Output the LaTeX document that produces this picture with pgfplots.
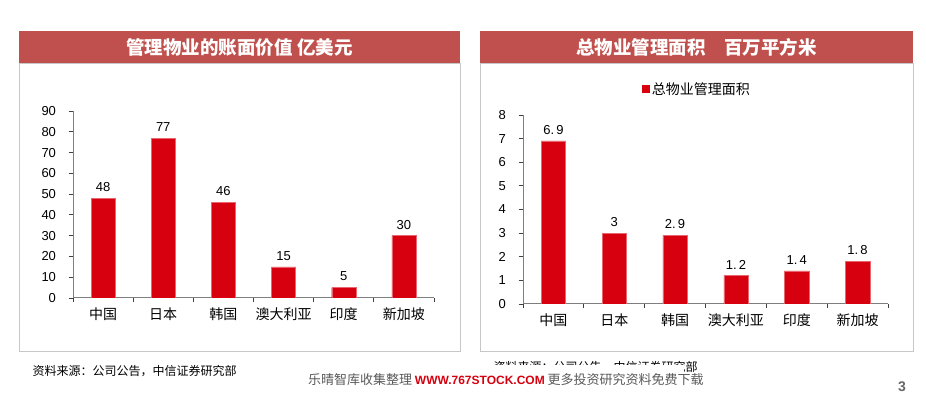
\documentclass[border=0pt]{standalone}
\usepackage{pgfplots}
\pgfplotsset{compat=1.18}
\usepackage{fontspec}
\setmainfont{Liberation Sans}
\newfontfamily\cjk{Noto Sans CJK SC}
\definecolor{barred}{HTML}{D7000F}
\definecolor{titlered}{HTML}{C0504D}
\definecolor{axisgray}{HTML}{7F7F7F}
\pgfplotsset{
  mybar/.style={
    scale only axis,
    xmin=-0.5, xmax=5.5, ymin=0,
    axis lines*=left,
    axis line style={axisgray, line width=1pt, -},
    tick style={black!75, line width=0.8pt},
    tick align=outside, major tick length=4.5pt,
    /pgf/number format/assume math mode=true,
    yticklabel style={font=\fontsize{13}{13}\selectfont, xshift=-9pt},
    xtick={-0.5,0.5,1.5,2.5,3.5,4.5,5.5},
    xticklabels={},
    extra x ticks={0,1,2,3,4,5},
    extra x tick labels={\cjk 中国,\cjk 日本,\cjk 韩国,\cjk 澳大利亚,\cjk 印度,\cjk 新加坡},
    extra x tick style={major tick length=0pt, tick label style={font=\cjk\fontsize{14}{14}\selectfont, yshift=-6pt}},
    ybar, bar width=0.4,
    nodes near coords,
    every node near coord/.append style={font=\fontsize{13}{13}\selectfont, black, yshift=3pt},
  }
}
\begin{document}
\begin{tikzpicture}
\useasboundingbox (0pt,0pt) rectangle (926pt,398pt);
% panels
\draw[black!22, line width=0.8pt] (19pt,47pt) rectangle (460pt,335pt);
\draw[black!22, line width=0.8pt] (480pt,47pt) rectangle (913pt,335pt);
\fill[titlered] (19pt,335pt) rectangle (460pt,367pt);
\fill[titlered] (480pt,335pt) rectangle (913pt,367pt);
\node[white, font=\cjk\bfseries\fontsize{18.5}{18.5}\selectfont] at (239.5pt,351pt) {管理物业的账面价值 亿美元};
\node[white, font=\cjk\bfseries\fontsize{18.5}{18.5}\selectfont] at (696.5pt,351pt) {总物业管理面积\hspace{1em}百万平方米};

% left chart
\begin{axis}[mybar, at={(73pt,100pt)}, anchor=south west, width=361pt, height=187pt,
  ymax=90, ytick={0,10,...,90}]
\addplot[fill=barred, draw=barred!60!white, line width=0.4pt] coordinates {(0,48) (1,77) (2,46) (3,15) (4,5) (5,30)};
\end{axis}

% right chart
\begin{axis}[mybar, at={(523pt,94pt)}, anchor=south west, width=365pt, height=189pt,
  ymax=8, ytick={0,1,...,8},
  point meta=explicit symbolic,
  nodes near coords={\pgfplotspointmeta},
  legend style={draw=none, at={(0.477,1)}, anchor=center, yshift=26pt, font=\cjk\fontsize{14}{14}\selectfont, inner sep=0pt},
  legend image code/.code={\fill[barred] (0pt,-3.5pt) rectangle (7pt,3.5pt);}]
\addplot[fill=barred, draw=barred!60!white, line width=0.4pt] coordinates {(0,6.9)[6.\,9] (1,3)[3] (2,2.9)[2.\,9] (3,1.2)[1.\,2] (4,1.4)[1.\,4] (5,1.8)[1.\,8]};
\addlegendentry{总物业管理面积}
\end{axis}

% sources
\node[anchor=west, font=\cjk\fontsize{12}{12}\selectfont] at (29pt,27pt) {资料来源：公司公告，中信证券研究部};
\node[anchor=west, font=\cjk\fontsize{12}{12}\selectfont] at (490pt,31pt) {资料来源：公司公告，中信证券研究部};
\fill[white] (300pt,8pt) rectangle (684pt,32.5pt);
\node[anchor=west, inner sep=0pt] at (308pt,18pt) {{\cjk\fontsize{13}{13}\selectfont\color{black!65}乐晴智库收集整理} {\bfseries\fontsize{12}{12}\selectfont\color{barred}WWW.767STOCK.COM} {\cjk\fontsize{13}{13}\selectfont\color{black!65}更多投资研究资料免费下载}};
\node[font=\bfseries\fontsize{14}{14}\selectfont, black!60] at (902pt,11pt) {3};
\end{tikzpicture}
\end{document}
